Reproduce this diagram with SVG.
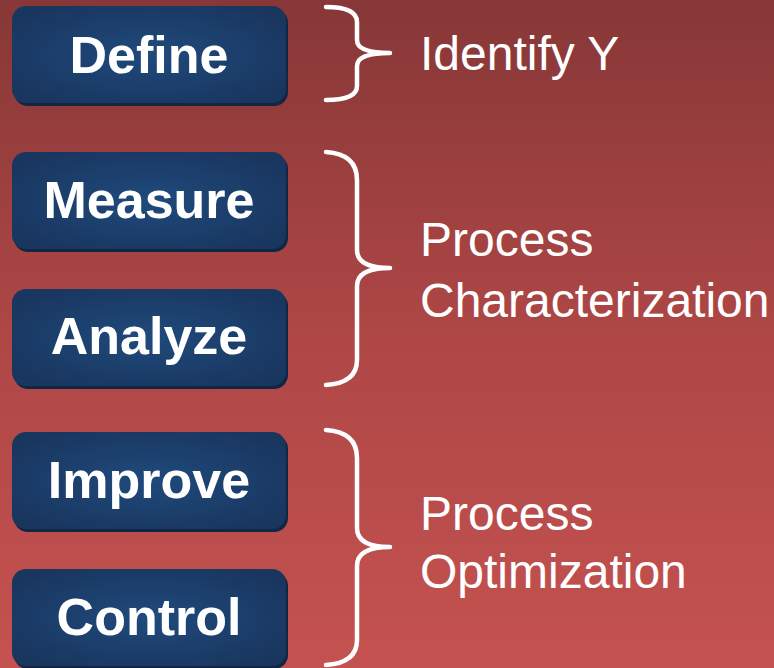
<svg xmlns="http://www.w3.org/2000/svg" width="774" height="668" viewBox="0 0 774 668">
  <defs>
    <linearGradient id="bg" x1="0" y1="0" x2="0" y2="1">
      <stop offset="0" stop-color="#873737"/>
      <stop offset="0.5" stop-color="#ae4746"/>
      <stop offset="1" stop-color="#c45250"/>
    </linearGradient>
    <radialGradient id="boxFill" cx="0.5" cy="0.5" r="0.6">
      <stop offset="0" stop-color="#1f4a7c"/>
      <stop offset="1" stop-color="#19365f"/>
    </radialGradient>
    <style>
      .shadow { fill: #102643; }
      .box { fill: url(#boxFill); }
      .step { font-family: "Liberation Sans", Arial, sans-serif; font-weight: bold; font-size: 52px; fill: #ffffff; text-anchor: middle; }
      .note { font-family: "Liberation Sans", Arial, sans-serif; font-size: 48px; fill: #ffffff; }
      .brace { fill: none; stroke: #ffffff; stroke-width: 4.5; stroke-linecap: round; stroke-linejoin: round; }
    </style>
  </defs>

  <rect x="0" y="0" width="774" height="668" fill="url(#bg)"/>

  <g id="define">
    <rect class="shadow" x="14" y="9" width="274" height="97" rx="14"/>
    <rect class="box" x="12" y="6" width="274" height="97" rx="14"/>
    <text class="step" x="149" y="73">Define</text>
  </g>
  <g id="measure">
    <rect class="shadow" x="14" y="155" width="274" height="97" rx="14"/>
    <rect class="box" x="12" y="152" width="274" height="97" rx="14"/>
    <text class="step" x="149" y="218">Measure</text>
  </g>
  <g id="analyze">
    <rect class="shadow" x="14" y="292" width="274" height="97" rx="14"/>
    <rect class="box" x="12" y="289" width="274" height="97" rx="14"/>
    <text class="step" x="149" y="354">Analyze</text>
  </g>
  <g id="improve">
    <rect class="shadow" x="14" y="435" width="274" height="97" rx="14"/>
    <rect class="box" x="12" y="432" width="274" height="97" rx="14"/>
    <text class="step" x="149" y="498">Improve</text>
  </g>
  <g id="control">
    <rect class="shadow" x="14" y="572" width="274" height="97" rx="14"/>
    <rect class="box" x="12" y="569" width="274" height="97" rx="14"/>
    <text class="step" x="149" y="635">Control</text>
  </g>

  <g id="connectors">
    <path class="brace" d="M326 7 Q357 7 357 22 L357 40 Q357 53 390 53 Q357 53 357 66 L357 86 Q357 100 326 100"/>
    <path class="brace" d="M326 152 Q357 154 357 180 L357 250 Q357 268 390 268 Q357 268 357 286 L357 360 Q357 383 326 385"/>
    <path class="brace" d="M326 430 Q357 432 357 458 L357 528 Q357 547 390 547 Q357 547 357 566 L357 640 Q357 663 326 665"/>
  </g>

  <g id="identify">
    <text class="note" x="420" y="70">Identify Y</text>
  </g>
  <g id="characterization">
    <text class="note" x="420" y="256">Process</text>
    <text class="note" x="420" y="317">Characterization</text>
  </g>
  <g id="optimization">
    <text class="note" x="420" y="530">Process</text>
    <text class="note" x="420" y="588">Optimization</text>
  </g>
</svg>
